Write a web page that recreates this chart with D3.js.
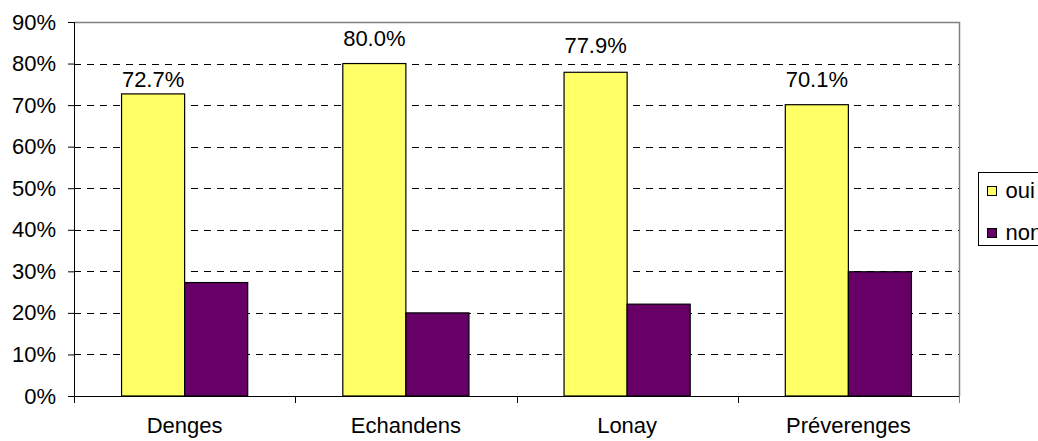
<!DOCTYPE html>
<html>
<head>
<meta charset="utf-8">
<script src="https://cdn.jsdelivr.net/npm/d3@7"></script>
<style>
  body { margin: 0; background: #fff; }
  text { font-family: "Liberation Sans", Arial, sans-serif; fill: #000; }
</style>
</head>
<body>
<div class="chart"></div>
<script>
var categories = ["Denges", "Echandens", "Lonay", "Préverenges"];
var seriesNames = ["oui", "non"];
var ouiValues = [72.7, 80.0, 77.9, 70.1];
var nonValues = [27.3, 20.0, 22.1, 29.9];
var yTicks = [0, 10, 20, 30, 40, 50, 60, 70, 80, 90];
// label gap above each oui bar, px (labels were placed by hand in the original)
var labelOffsets = [7, 17.5, 19, 17.5];

var svgWidth = 1038;
var svgHeight = 441;
var margin = { top: 22, right: 79, bottom: 45, left: 74 };
var width = svgWidth - margin.left - margin.right;
var height = svgHeight - margin.top - margin.bottom;

var colors = { oui: "#ffff66", non: "#660066" };
var fontSize = 22;

var svg = d3.select(".chart")
  .append("svg")
  .attr("width", svgWidth)
  .attr("height", svgHeight);

var chartGroup = svg.append("g")
  .attr("transform", `translate(${margin.left}, ${margin.top})`);

var x0 = d3.scaleBand()
  .domain(categories)
  .range([0, width])
  .paddingInner(0)
  .paddingOuter(0);

var x1 = d3.scaleBand()
  .domain(seriesNames)
  .range([0, x0.bandwidth()])
  .paddingInner(0)
  .paddingOuter(0.754);

var yScale = d3.scaleLinear()
  .domain([0, 90])
  .range([height, 0]);

// plot frame (top and right in grey)
chartGroup.append("path")
  .attr("d", `M0,0.5H${width + 0.5}V${height}`)
  .attr("fill", "none")
  .attr("stroke", "#808080")
  .attr("stroke-width", 1.5);

// dashed gridlines
chartGroup.selectAll(".grid")
  .data(yTicks.filter(d => d > 0 && d < 90))
  .enter()
  .append("line")
  .attr("x1", 0)
  .attr("x2", width)
  .attr("y1", d => Math.round(yScale(d)) + 0.5)
  .attr("y2", d => Math.round(yScale(d)) + 0.5)
  .attr("stroke", "#000")
  .attr("stroke-dasharray", "7,6");

// bars
var data = categories.map((c, i) => ({ cat: c, oui: ouiValues[i], non: nonValues[i], off: labelOffsets[i] }));

var groups = chartGroup.selectAll(".group")
  .data(data)
  .enter()
  .append("g")
  .attr("transform", d => `translate(${x0(d.cat)},0)`);

groups.selectAll("rect")
  .data(d => seriesNames.map(s => ({ key: s, value: d[s] })))
  .enter()
  .append("rect")
  .attr("x", d => x1(d.key))
  .attr("y", d => yScale(d.value))
  .attr("width", x1.bandwidth())
  .attr("height", d => height - yScale(d.value))
  .attr("fill", d => colors[d.key])
  .attr("stroke", "#000")
  .attr("stroke-width", 1.2);

// value labels on oui bars
groups.append("text")
  .attr("x", x1("oui") + x1.bandwidth() / 2)
  .attr("y", d => yScale(d.oui) - d.off)
  .attr("text-anchor", "middle")
  .style("font-size", fontSize + "px")
  .text(d => d.oui.toFixed(1) + "%");

// axes
var leftAxis = d3.axisLeft(yScale)
  .tickValues(yTicks)
  .tickSize(6)
  .tickPadding(12)
  .tickFormat(d => d + "%");

var yAxisG = chartGroup.append("g").call(leftAxis);
yAxisG.select(".domain").attr("stroke", "#000").attr("d", `M0.5,0V${height}`);
yAxisG.selectAll("text").style("font-size", fontSize + "px").attr("font-family", null);

var xAxisG = chartGroup.append("g")
  .attr("transform", `translate(0, ${height})`);

xAxisG.append("line")
  .attr("x1", 0).attr("x2", width + 1)
  .attr("y1", 0.5).attr("y2", 0.5)
  .attr("stroke", "#000");

xAxisG.selectAll(".tickx")
  .data(d3.range(categories.length + 1))
  .enter()
  .append("line")
  .attr("x1", d => Math.round(d * x0.step()) + 0.5)
  .attr("x2", d => Math.round(d * x0.step()) + 0.5)
  .attr("y1", 0)
  .attr("y2", 7)
  .attr("stroke", d => d === categories.length ? "#808080" : "#000");

xAxisG.selectAll(".labelx")
  .data(categories)
  .enter()
  .append("text")
  .attr("x", d => x0(d) + x0.bandwidth() / 2)
  .attr("y", 37)
  .attr("text-anchor", "middle")
  .style("font-size", fontSize + "px")
  .text(d => d);

// legend (cut off by the right edge, as in the original)
var legend = svg.append("g")
  .attr("transform", "translate(978.5, 172.5)");

legend.append("rect")
  .attr("width", 100)
  .attr("height", 73)
  .attr("fill", "#fff")
  .attr("stroke", "#000");

var legendItems = legend.selectAll(".item")
  .data(seriesNames)
  .enter()
  .append("g")
  .attr("transform", (d, i) => `translate(9, ${14 + i * 42})`);

legendItems.append("rect")
  .attr("width", 9)
  .attr("height", 9)
  .attr("fill", d => colors[d])
  .attr("stroke", "#000");

legendItems.append("text")
  .attr("x", 18)
  .attr("y", 11)
  .style("font-size", fontSize + "px")
  .text(d => d);
</script>
</body>
</html>
